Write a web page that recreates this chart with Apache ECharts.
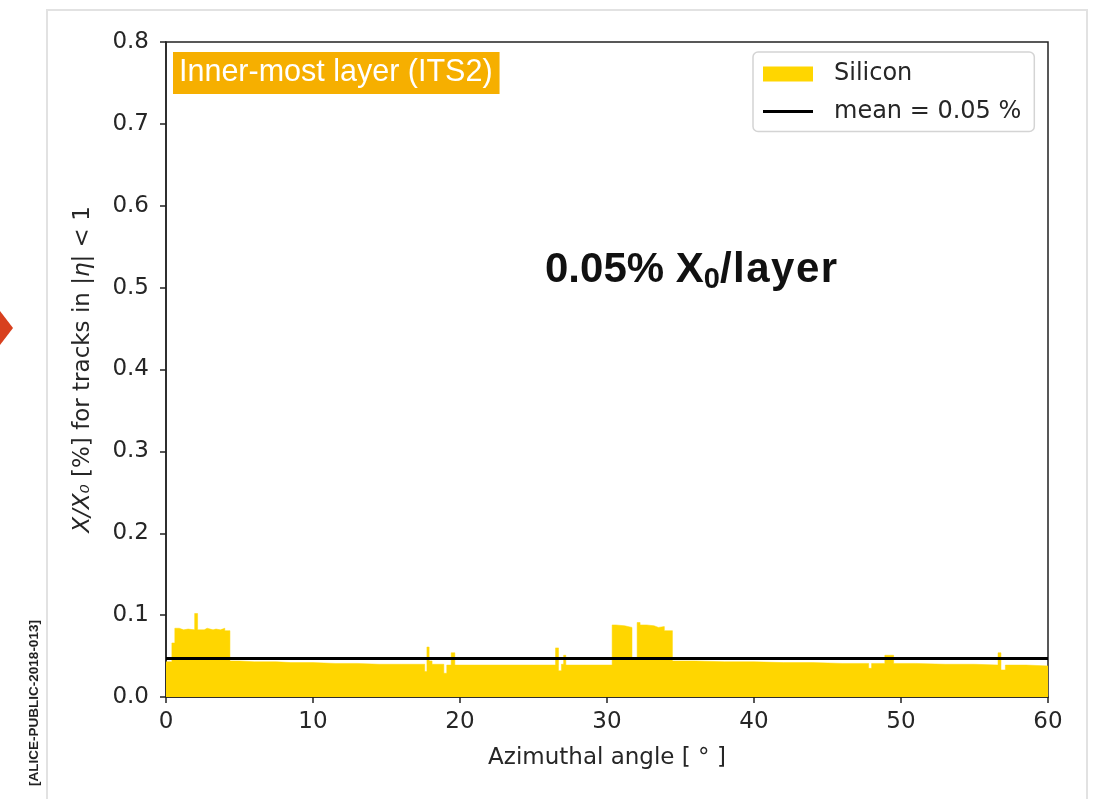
<!DOCTYPE html>
<html>
<head>
<meta charset="utf-8">
<script src="https://cdn.jsdelivr.net/npm/echarts@6/dist/echarts.min.js"></script>
<style>
html,body{margin:0;padding:0;background:#fff;}
#chart{width:1093px;height:799px;}
</style>
</head>
<body>
<div id="chart"></div>
<script>
// Bin edges (azimuthal angle, degrees) and material budget per bin (X/X0 in %)
var binEdges = [0.0,0.4,0.6,0.9,1.2,1.5,1.95,2.15,2.6,2.8,3.2,3.4,3.7,4.0,4.35,5.0,6.0,7.5,8.5,10.0,11.5,13.0,14.5,16.0,
  17.6,17.75,17.9,18.1,18.9,19.1,19.4,19.65,21.0,23.0,25.0,26.5,26.7,26.9,27.05,27.2,28.5,30.35,30.6,31.2,31.7,32.05,32.25,
  32.7,33.2,33.5,33.9,34.45,36.0,38.0,40.0,42.0,44.0,46.0,47.8,48.0,48.9,49.5,51.0,53.0,55.0,56.6,56.8,57.1,58.5,60.0];
var siliconValues = [0.043,0.066,0.084,0.082,0.083,0.082,0.102,0.082,0.084,0.082,0.083,0.082,0.084,0.081,0.044,0.043,0.043,0.042,0.042,0.041,0.041,0.040,0.040,0.040,
  0.031,0.061,0.044,0.040,0.029,0.039,0.054,0.039,0.039,0.039,0.039,0.060,0.032,0.040,0.051,0.039,0.039,0.088,0.087,0.085,0.048,0.091,
  0.088,0.087,0.085,0.086,0.081,0.044,0.043,0.043,0.042,0.042,0.041,0.041,0.035,0.041,0.051,0.041,0.040,0.040,0.039,0.054,0.033,0.039,0.038,0.038];
var meanValue = 0.047;
var xTicks = [0,10,20,30,40,50,60];
var yTicks = [0.0,0.1,0.2,0.3,0.4,0.5,0.6,0.7,0.8];

var siliconData = binEdges.map(function(e, i){ return [e, siliconValues[i]]; });
var meanData = [[xTicks[0], meanValue], [xTicks[xTicks.length-1], meanValue]];

var chart = echarts.init(document.getElementById('chart'), null, {renderer:'canvas'});
var tickFont = {fontFamily:'DejaVu Sans', fontSize:23, color:'#262626'};
chart.setOption({
  animation:false,
  backgroundColor:'#fff',
  title:{
    text:'Inner-most layer (ITS2)',
    left:173, top:52,
    padding:[4,7,4,6],
    backgroundColor:'#F6AF00',
    textStyle:{fontFamily:'Liberation Sans', fontSize:30.5, fontWeight:'normal', color:'#fff', lineHeight:34}
  },
  legend:{
    left:753, top:52,
    orient:'vertical',
    backgroundColor:'#fff',
    borderColor:'#d4d4d4', borderWidth:1.5, borderRadius:5,
    padding:[9,13,7,10],
    itemWidth:50, itemHeight:15, itemGap:11.5,
    textStyle:{fontFamily:'DejaVu Sans', fontSize:24, color:'#262626', lineHeight:26, padding:[0,0,0,16]},
    data:[{name:'Silicon', icon:'rect'}, {name:'mean = 0.05 %', icon:'path://M0,0H50V3H0Z'}]
  },
  grid:{left:166, right:45, top:42, bottom:102, show:true, borderColor:'#222', borderWidth:1.5, backgroundColor:'transparent'},
  xAxis:{
    type:'value', min:xTicks[0], max:xTicks[xTicks.length-1], interval:10,
    name:'Azimuthal angle [ ° ]', nameLocation:'middle', nameGap:50,
    nameTextStyle:{fontFamily:'DejaVu Sans', fontSize:23, color:'#262626'},
    axisLine:{show:true, lineStyle:{color:'#222', width:1.5}},
    axisTick:{show:true, length:6, lineStyle:{color:'#222', width:1.5}},
    axisLabel:Object.assign({margin:14}, tickFont),
    splitLine:{show:false}
  },
  yAxis:{
    type:'value', min:yTicks[0], max:yTicks[yTicks.length-1], interval:0.1,
    name:'{it|X/X₀} [%] for tracks in |{it|η}| < 1', nameLocation:'middle', nameGap:71,
    nameTextStyle:{fontFamily:'DejaVu Sans', fontSize:23, color:'#262626',
      rich:{it:{fontFamily:'DejaVu Sans', fontSize:23, fontStyle:'italic', color:'#262626'}}},
    axisLine:{show:true, lineStyle:{color:'#222', width:1.5}},
    axisTick:{show:true, length:6, lineStyle:{color:'#222', width:1.5}},
    axisLabel:Object.assign({margin:17, formatter:function(v){return v.toFixed(1);}}, tickFont),
    splitLine:{show:false}
  },
  series:[
    {
      name:'Silicon', type:'line', step:'end', data:siliconData,
      showSymbol:false, symbol:'none', color:'#FFD600',
      itemStyle:{color:'#FFD600'},
      lineStyle:{width:0.5, color:'#FFD600'},
      areaStyle:{color:'#FFD600', opacity:1},
      z:2
    },
    {
      name:'mean = 0.05 %', type:'line', data:meanData,
      showSymbol:false, symbol:'none', color:'#000',
      itemStyle:{color:'#000'},
      lineStyle:{width:3, color:'#000'},
      z:3
    }
  ],
  graphic:[
    {type:'rect', silent:true, z:-10, shape:{x:47, y:10, width:1040, height:800},
      style:{fill:'none', stroke:'#e2e2e2', lineWidth:2}},
    {type:'polygon', silent:true, shape:{points:[[0,311],[13,328],[0,345]]}, style:{fill:'#D8401E'}},
    {type:'text', silent:true, x:34, y:703, rotation:Math.PI/2,
      style:{text:'[ALICE-PUBLIC-2018-013]', fontFamily:'Liberation Sans', fontWeight:'bold', fontSize:13.5,
        fill:'#222', align:'center', verticalAlign:'middle'}},
    {type:'text', silent:true, x:545, y:270,
      style:{text:'{m|0.05% X}{s|0}{m|/}{w|l}{w|a}{w|y}{w|e}{w|r}', verticalAlign:'middle', align:'left',
        rich:{
          m:{fontFamily:'Liberation Sans', fontWeight:'bold', fontSize:42, lineHeight:48, fill:'#111'},
          w:{fontFamily:'Liberation Sans', fontWeight:'bold', fontSize:42, lineHeight:48, fill:'#111', padding:[0,0,0,1.5]},
          s:{fontFamily:'Liberation Sans', fontWeight:'bold', fontSize:29, lineHeight:33, verticalAlign:'bottom', fill:'#111'}
        }}}
  ]
});
</script>
</body>
</html>
